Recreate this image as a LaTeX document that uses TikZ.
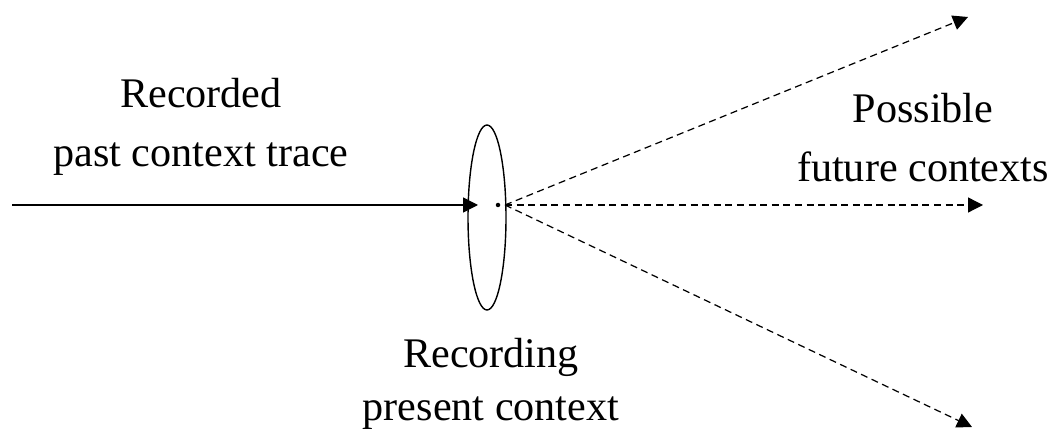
\documentclass[tikz,border=0pt]{standalone}
\usepackage{fontspec}
\setmainfont{Liberation Serif}
\usetikzlibrary{shapes.geometric, arrows.meta, positioning}

\begin{document}
\begin{tikzpicture}[
    x=0.02cm, y=-0.02cm,
    caption/.style={align=center, inner sep=0pt, anchor=base, font=\fontsize{24}{34}\selectfont},
    arrow/.style={-{Triangle[length=0.3cm, width=0.3cm]}, line width=0.8pt},
    future/.style={arrow, dash pattern=on 4pt off 2.6pt, line width=0.7pt}
]
\useasboundingbox (0,0) rectangle (1053,431);

% past trace
\coordinate (past) at (12,205);
\coordinate (pastend) at (478,205);
\node[caption] (pasttext) at (201,167) {Recorded\\past context trace};

% present
\node[draw, ellipse, line width=0.8pt, minimum width=0.76cm, minimum height=3.7cm, inner sep=0pt] (lens) at (487,217.5) {};
\node[circle, fill, inner sep=0pt, minimum size=0.09cm] (now) at (498,205) {};
\coordinate (fan) at (505,205);
\node[caption, font=\fontsize{24}{30}\selectfont] (nowtext) at (491,420) {Recording\\present context};

% futures
\coordinate (up) at (968,17);
\coordinate (mid) at (983,205);
\coordinate (down) at (972,427);
\node[caption] (futtext) at (923,182) {Possible\\future contexts};

% arrows
\draw[arrow] (past) -- (pastend);
\draw[future] (fan) -- (up);
\draw[future] (fan) -- (mid);
\draw[future] (fan) -- (down);

\end{tikzpicture}
\end{document}
